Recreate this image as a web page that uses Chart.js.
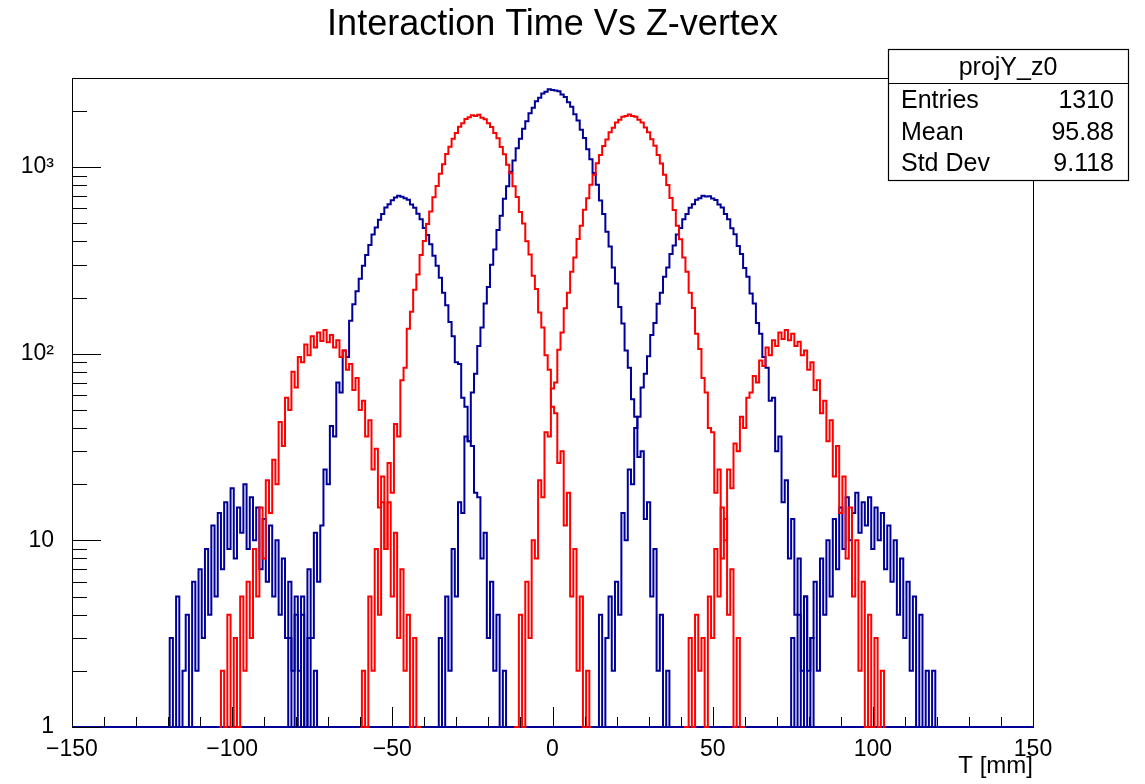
<!DOCTYPE html>
<html>
<head>
<meta charset="utf-8">
<title>Interaction Time Vs Z-vertex</title>
<script src="https://cdn.jsdelivr.net/npm/chart.js@4.4.1/dist/chart.umd.min.js"></script>
<style>
  body { margin: 0; background: #ffffff; }
  canvas { display: block; }
</style>
</head>
<body>
<canvas id="myChart" width="1145" height="784"></canvas>
<script>
// counts per 1 mm bin of T; binStarts holds the first bin centre of each list
const binStarts = [-120, -103, -82, -59, -36, -11, 14, 42, 74];

const blueM96 = [1, 3, 1, 5, 1, 2, 4, 1, 6, 2, 7, 3, 9, 4, 12, 5, 14, 7, 16, 9, 19, 8, 15, 11, 20, 9, 17, 10, 15, 7, 13, 6, 12, 5, 10, 4, 8, 3, 6, 2, 5, 1, 4, 1, 3, 1, 2];
const redM72 = [2, 1, 4, 1, 3, 1, 5, 2, 6, 3, 9, 5, 15, 8, 21, 14, 27, 20, 43, 32, 58, 50, 80, 66, 96, 90, 112, 98, 124, 108, 130, 117, 134, 115, 126, 108, 118, 96, 104, 82, 88, 64, 74, 50, 56, 36, 44, 24, 31, 15, 22, 9, 16, 5, 11, 3, 7, 2, 4, 1, 3, 1];
const blueM48 = [3, 1, 4, 2, 5, 1, 7, 3, 11, 6, 12, 24, 20, 41, 36, 70, 62, 104, 96, 150, 184, 216, 252, 296, 338, 382, 435, 474, 522, 560, 608, 632, 664, 686, 702, 694, 680, 668, 630, 605, 562, 526, 472, 432, 386, 335, 296, 255, 212, 182, 148, 124, 90, 88, 58, 52, 34, 32, 18, 17, 8, 11, 3, 6, 2, 4, 1, 2, 1];
const redM24 = [2, 1, 5, 2, 9, 4, 16, 9, 26, 18, 42, 36, 72, 84, 136, 168, 220, 266, 338, 402, 495, 578, 690, 792, 922, 1035, 1175, 1285, 1420, 1522, 1645, 1715, 1810, 1850, 1895, 1880, 1905, 1840, 1805, 1718, 1640, 1520, 1425, 1280, 1172, 1030, 925, 790, 692, 575, 498, 400, 340, 262, 222, 166, 138, 98, 82, 52, 48, 26, 30, 12, 18, 5, 9, 2, 5, 1, 2];
const blue0 = [1, 3, 1, 5, 2, 9, 5, 16, 14, 36, 34, 62, 78, 110, 138, 186, 228, 300, 362, 460, 548, 676, 790, 945, 1085, 1262, 1418, 1605, 1760, 1945, 2080, 2250, 2350, 2475, 2530, 2610, 2590, 2575, 2545, 2450, 2372, 2225, 2105, 1920, 1778, 1585, 1432, 1245, 1100, 930, 805, 662, 560, 450, 375, 290, 238, 178, 145, 104, 84, 57, 46, 28, 30, 13, 16, 5, 9, 2, 4, 1, 2];
const redP24 = [1, 4, 1, 6, 3, 10, 8, 21, 17, 38, 36, 65, 70, 105, 130, 175, 212, 275, 328, 412, 485, 590, 680, 805, 910, 1048, 1160, 1298, 1405, 1538, 1625, 1735, 1790, 1862, 1880, 1910, 1875, 1858, 1792, 1730, 1628, 1535, 1408, 1300, 1160, 1045, 910, 802, 682, 588, 485, 410, 328, 275, 212, 176, 128, 106, 74, 62, 40, 38, 18, 24, 8, 13, 4, 7, 1, 3, 1];
const blueP48 = [1, 4, 1, 3, 5, 2, 6, 4, 14, 10, 24, 20, 40, 46, 66, 78, 97, 126, 146, 185, 212, 258, 290, 342, 380, 435, 472, 525, 560, 606, 632, 668, 680, 702, 695, 698, 678, 666, 630, 608, 560, 526, 470, 436, 378, 342, 288, 258, 210, 186, 146, 128, 96, 84, 56, 58, 30, 36, 16, 21, 8, 13, 4, 8, 2, 5, 1, 3, 1];
const redP72 = [1, 3, 1, 4, 2, 3, 1, 5, 3, 9, 5, 15, 10, 24, 19, 33, 30, 46, 40, 58, 62, 76, 70, 92, 86, 108, 98, 118, 110, 130, 120, 134, 118, 128, 110, 116, 98, 104, 82, 90, 64, 72, 48, 56, 34, 44, 22, 32, 14, 22, 8, 15, 5, 10, 2, 6, 1, 4, 1, 3, 1, 2];
const blueP96 = [1, 3, 1, 4, 1, 5, 2, 3, 6, 2, 8, 4, 10, 5, 13, 7, 15, 9, 17, 10, 14, 18, 11, 16, 12, 17, 9, 15, 10, 14, 7, 12, 6, 10, 4, 8, 3, 6, 2, 5, 1, 4, 1, 2, 1, 2, 1];

const histograms = [blueM96, redM72, blueM48, redM24, blue0, redP24, blueP48, redP72, blueP96];

const xTickValues = [-150, -100, -50, 0, 50, 100, 150];
const yTickValues = [1, 10, 100, 1000];
const yTickLabels = ['1', '10', '10²', '10³'];

const statsTitle = 'projY_z0';
const statsKeys = ['Entries', 'Mean', 'Std Dev'];
const statsValues = ['1310', '95.88', '9.118'];

const fontFamily = '"Liberation Sans", Arial, Helvetica, sans-serif';
const blueLine = '#000099';
const redLine = '#ff0000';

// blue histograms run over the whole axis so their empty bins sit on the bottom edge
function histPoints(start, counts, fullRange) {
    let first = fullRange ? -150 : start - 1;
    let last = fullRange ? 150 : start + counts.length;
    let pts = [];
    for (let x = first; x <= last; x++) {
        let i = x - start;
        pts.push({ x: x, y: (i >= 0 && i < counts.length) ? counts[i] : 1 });
    }
    return pts;
}

let reds = [];
let blues = [];
histograms.forEach((counts, i) => {
    let isBlue = i % 2 === 0;
    let ds = {
        data: histPoints(binStarts[i], counts, isBlue),
        borderColor: isBlue ? blueLine : redLine,
        borderWidth: 2,
        pointRadius: 0,
        fill: false,
        stepped: 'middle',
        clip: { left: 0, top: 0, right: 0, bottom: 2 },
    };
    (isBlue ? blues : reds).push(ds);
});

const rootAxes = {
    id: 'rootAxes',
    beforeDatasetsDraw(chart) {
        const { ctx, chartArea: a } = chart;
        ctx.save();
        ctx.strokeStyle = '#000';
        ctx.lineWidth = 1;
        ctx.strokeRect(a.left + 0.5, a.top + 0.5, a.right - a.left, a.bottom - a.top);
        ctx.restore();
    },
    afterDatasetsDraw(chart) {
        const { ctx, chartArea: a, scales } = chart;
        ctx.save();
        ctx.strokeStyle = '#000';
        ctx.lineWidth = 1;
        ctx.beginPath();
        for (let v = -150; v <= 150; v += 10) {
            let px = Math.round(scales.x.getPixelForValue(v)) + 0.5;
            let len = v % 50 === 0 ? 20 : 10;
            ctx.moveTo(px, a.bottom);
            ctx.lineTo(px, a.bottom - len);
        }
        for (let dec = 1; dec <= 1000; dec *= 10) {
            for (let m = 1; m <= 9; m++) {
                let v = m * dec;
                if (v > scales.y.max) break;
                let py = Math.round(scales.y.getPixelForValue(v)) + 0.5;
                let len = m === 1 ? 29 : 15;
                ctx.moveTo(a.left, py);
                ctx.lineTo(a.left + len, py);
            }
        }
        ctx.stroke();
        ctx.restore();
    }
};

const statsBox = {
    id: 'statsBox',
    afterDraw(chart) {
        const ctx = chart.ctx;
        let left = 888, top = 49, right = 1128, bottom = 180, split = 83;
        ctx.save();
        ctx.fillStyle = '#fff';
        ctx.fillRect(left, top, right - left, bottom - top);
        ctx.strokeStyle = '#000';
        ctx.lineWidth = 1.2;
        ctx.strokeRect(left + 0.5, top + 0.5, right - left, bottom - top);
        ctx.beginPath();
        ctx.moveTo(left, split + 0.5);
        ctx.lineTo(right, split + 0.5);
        ctx.stroke();

        ctx.fillStyle = '#000';
        ctx.font = '25px ' + fontFamily;
        ctx.textBaseline = 'alphabetic';
        ctx.textAlign = 'center';
        ctx.fillText(statsTitle, (left + right) / 2, 75);
        let rowY = [108, 140, 171];
        statsKeys.forEach((key, i) => {
            ctx.textAlign = 'left';
            ctx.fillText(key, 901, rowY[i]);
            ctx.textAlign = 'right';
            ctx.fillText(statsValues[i], 1114, rowY[i]);
        });
        ctx.restore();
    }
};

const ctx = document.getElementById('myChart');
let chart = new Chart(ctx, {
    type: 'line',
    data: { datasets: reds.concat(blues) },
    plugins: [rootAxes, statsBox],
    options: {
        responsive: false,
        animation: false,
        events: [],
        layout: { padding: { left: 0, right: 112, top: 0, bottom: 0 } },
        plugins: {
            legend: { display: false },
            tooltip: { enabled: false },
            title: {
                display: true,
                fullSize: false,
                text: 'Interaction Time Vs Z-vertex',
                color: '#000',
                font: { family: fontFamily, size: 36, weight: 'normal' },
                padding: { top: 3, bottom: 31.8 }
            }
        },
        scales: {
            x: {
                type: 'linear',
                min: -150,
                max: 150,
                grid: { display: false },
                border: { display: false },
                afterBuildTicks: (scale) => {
                    scale.ticks = xTickValues.map((v) => ({ value: v }));
                },
                ticks: {
                    autoSkip: false,
                    maxRotation: 0,
                    padding: 1,
                    color: '#000',
                    font: { family: fontFamily, size: 23 },
                    callback: (v) => (v < 0 ? '\u2212' + Math.abs(v) : String(v))
                },
                title: {
                    display: true,
                    text: 'T [mm]',
                    align: 'end',
                    color: '#000',
                    font: { family: fontFamily, size: 24 },
                    padding: { top: 0, bottom: 3 }
                },
                afterFit: (scale) => { scale.height = 57; }
            },
            y: {
                type: 'logarithmic',
                min: 1,
                max: 3000,
                grid: { display: false },
                border: { display: false },
                afterBuildTicks: (scale) => {
                    scale.ticks = yTickValues.map((v) => ({ value: v }));
                },
                ticks: {
                    autoSkip: false,
                    padding: 10,
                    color: '#000',
                    font: { family: fontFamily, size: 23 },
                    callback: (v) => yTickLabels[yTickValues.indexOf(v)]
                },
                afterFit: (scale) => { scale.width = 72; }
            }
        }
    }
});
</script>
</body>
</html>
